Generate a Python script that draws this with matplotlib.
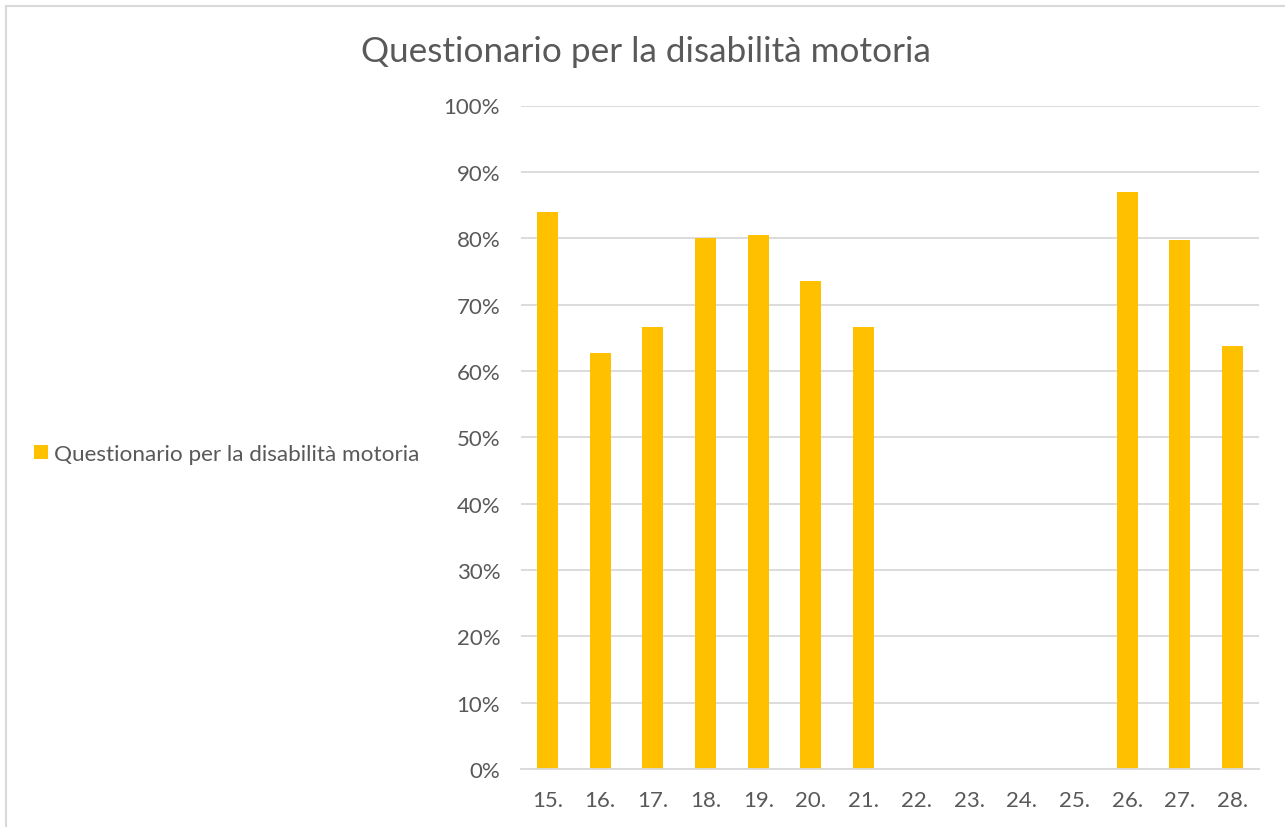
import matplotlib
matplotlib.use("Agg")
import matplotlib.pyplot as plt
from matplotlib.lines import Line2D
from matplotlib.patches import Patch
from matplotlib.ticker import PercentFormatter, MultipleLocator

categories = ["15.", "16.", "17.", "18.", "19.", "20.", "21.", "22.", "23.", "24.", "25.", "26.", "27.", "28."]
values = [84.0, 62.7, 66.6, 80.0, 80.5, 73.5, 66.6, 0, 0, 0, 0, 86.9, 79.7, 63.7]
series_name = "Questionario per la disabilità motoria"
title = "Questionario per la disabilità motoria"

bar_color = "#FFC000"
text_color = "#595959"
grid_color = "#D9D9D9"

plt.rcParams['font.family'] = ['Lato', 'DejaVu Sans']

fig = plt.figure(figsize=(12.85, 8.28), dpi=100)
ax = fig.add_axes([521/1285, 1 - 770/828, (1259-521)/1285, (770-106.5)/828])

x = list(range(len(categories)))
ax.bar(x, values, width=0.40, color=bar_color, zorder=3)
ax.set_xlim(-0.5, len(categories) - 0.5)
ax.set_ylim(0, 100)
ax.yaxis.set_major_locator(MultipleLocator(10))
ax.yaxis.set_major_formatter(PercentFormatter(decimals=0))
ax.set_xticks(x)
ax.set_xticklabels(categories)
ax.grid(axis='y', color=grid_color, linewidth=1.3, zorder=0)
for s in ['top', 'right', 'left']:
    ax.spines[s].set_visible(False)
ax.spines['bottom'].set_color(grid_color)
ax.spines['bottom'].set_linewidth(1.3)
ax.spines['bottom'].set_zorder(4)
ax.tick_params(axis='both', length=0, labelsize=16, colors=text_color)
ax.tick_params(axis='y', pad=15)
ax.tick_params(axis='x', pad=15)

fig.text(646/1285, 1 - 52/828, title, ha='center', va='center', fontsize=25.3, color=text_color)

handle = Patch(facecolor=bar_color, edgecolor='none')
fig.legend([handle], [series_name], loc='center left', bbox_to_anchor=(34/1285, 1 - 455/828),
           frameon=False, fontsize=16.2, labelcolor=text_color, handlelength=0.6, handleheight=0.6,
           handletextpad=0.3, borderaxespad=0, borderpad=0)

# chart frame (left and top edges visible)
fig.add_artist(Line2D([6/1285, 6/1285], [0, 1 - 7/828], transform=fig.transFigure, color=grid_color, linewidth=1.5))
fig.add_artist(Line2D([6/1285, 1], [1 - 7/828, 1 - 7/828], transform=fig.transFigure, color=grid_color, linewidth=1.5))

fig.savefig("out.png", dpi=100)
